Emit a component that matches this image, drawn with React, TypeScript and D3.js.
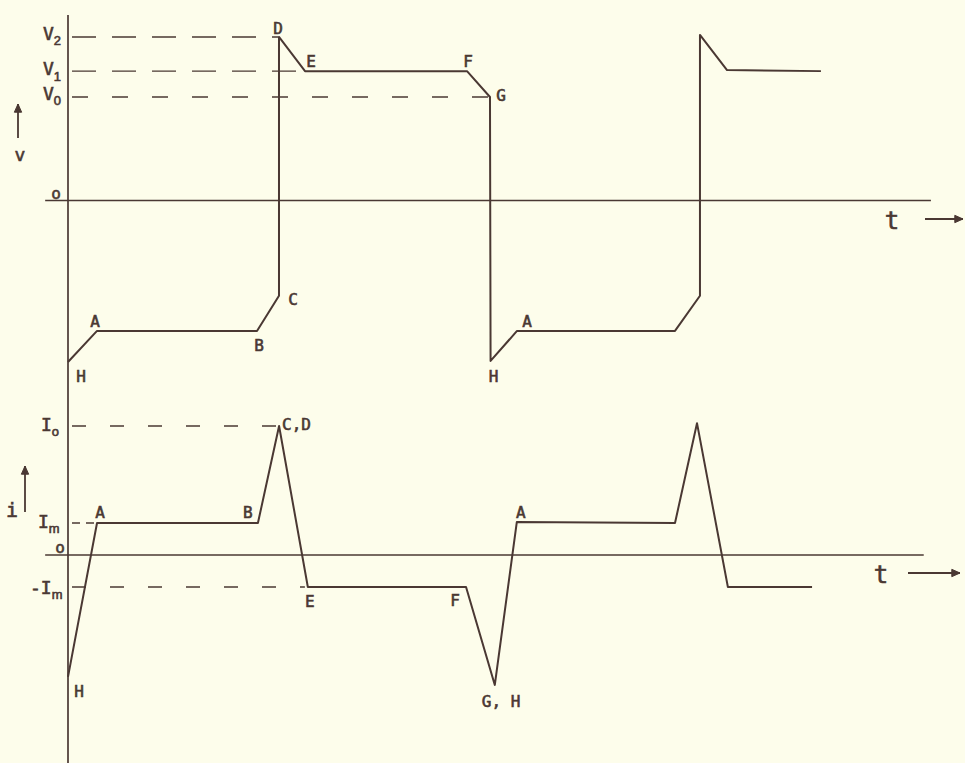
import React from "react";
import * as d3 from "d3";

// Time instants (ms) of the voltage waveform corners
const vTimes = [0, 0.686, 4.468, 4.988, 4.988, 5.603, 9.433, 9.976, 9.99, 10.615, 14.35, 14.94, 14.94, 15.58, 17.8];
// Voltage at each instant, in units of V0
const vValues = [-1.56, -1.26, -1.26, -0.92, 1.58, 1.25, 1.25, 1.0, -1.55, -1.26, -1.26, -0.92, 1.6, 1.26, 1.25];

// Time instants (ms) of the current waveform corners
const iTimes = [0, 0.686, 4.49, 4.99, 5.67, 9.41, 10.09, 10.61, 14.35, 14.87, 15.6, 17.59];
// Current at each instant, in units of Im
const iValues = [-3.81, 1.0, 1.0, 4.03, -1.0, -1.0, -4.06, 1.03, 1.0, 4.12, -1.0, -1.0];

// Reference levels and the instant where each dashed guide stops
const vLevelNames = ["V2", "V1", "V0"];
const vLevelValues = [1.58, 1.25, 1.0];
const vLevelEnds = [4.97, 5.5, 9.95];

const iLevelNames = ["I0", "Im", "-Im"];
const iLevelValues = [4.03, 1.0, -1.0];
const iLevelEnds = [4.95, 0.62, 5.6];

// Time axis extent (ms)
const tAxisStart = -0.54;
const tAxisEndV = 20.4;
const tAxisEndI = 20.23;

const INK = "#4a3833";
const PAPER = "#fdfdeb";
const FONT = "'DejaVu Sans Mono', monospace";
const SUB_FONT = "'Liberation Sans', Arial, sans-serif";

const x = d3.scaleLinear().domain([0, 10]).range([68, 491]);
const yV = d3.scaleLinear().domain([0, 1]).range([200.5, 97]);
const yI = d3.scaleLinear().domain([0, 1]).range([555, 523]);

type Pt = [number, number];

function Label({ x: lx, y: ly, text, sub, size = 16, anchor = "middle" }: { x: number; y: number; text: string; sub?: string; size?: number; anchor?: string }) {
  return (
    <text
      x={lx}
      y={ly}
      fontFamily={FONT}
      fontSize={size}
      fill={INK}
      stroke={INK}
      strokeWidth={0.6}
      textAnchor={anchor as any}
    >
      {text}
      {sub ? (
        <tspan fontFamily={SUB_FONT} fontSize={size * 0.72} dy={size * 0.3}>
          {sub}
        </tspan>
      ) : null}
    </text>
  );
}

function Arrow({ x1, y1, x2, y2 }: { x1: number; y1: number; x2: number; y2: number }) {
  const ang = Math.atan2(y2 - y1, x2 - x1);
  const L = 9;
  const w = 0.42;
  const p1: Pt = [x2 - L * Math.cos(ang - w), y2 - L * Math.sin(ang - w)];
  const p2: Pt = [x2 - L * Math.cos(ang + w), y2 - L * Math.sin(ang + w)];
  return (
    <g stroke={INK} strokeWidth={1.8} fill={INK}>
      <line x1={x1} y1={y1} x2={x2} y2={y2} />
      <path d={`M${p1[0]},${p1[1]} L${x2},${y2} L${p2[0]},${p2[1]} Z`} strokeWidth={1} strokeLinejoin="miter" />
    </g>
  );
}

export default function App() {
  const line = d3.line<Pt>().x((d) => d[0]).y((d) => d[1]);
  const vPath = line(vTimes.map((t, k) => [x(t), yV(vValues[k])] as Pt)) || "";
  const iPath = line(iTimes.map((t, k) => [x(t), yI(iValues[k])] as Pt)) || "";

  const vp = (k: number): Pt => [x(vTimes[k]), yV(vValues[k])];
  const ip = (k: number): Pt => [x(iTimes[k]), yI(iValues[k])];

  const axisX = x(0);

  // point labels: [index, text, dx, dy]
  const vPointLabels: [number, string, number, number][] = [
    [0, "H", 13, 20],
    [1, "A", -2, -4],
    [2, "B", 2, 20],
    [3, "C", 14, 9],
    [4, "D", -1, -3],
    [5, "E", 6, -4],
    [6, "F", 1, -4],
    [7, "G", 11, 4],
    [8, "H", 3, 21],
    [9, "A", 10, -4],
  ];
  const iPointLabels: [number, string, number, number][] = [
    [0, "H", 11, 20],
    [1, "A", 3, -5],
    [2, "B", -10, -5],
    [5, "F", -11, 19],
    [4, "E", 2, 20],
    [7, "A", 4, -4],
  ];

  const [cdx, cdy] = ip(3);
  const [ghx, ghy] = ip(6);

  return (
    <svg
      width={965}
      height={763}
      style={{ position: "absolute", left: 0, top: 0, background: PAPER }}
    >
      <rect x={0} y={0} width={965} height={763} fill={PAPER} />

      {/* vertical axis shared by both traces */}
      <line x1={axisX} y1={15} x2={axisX} y2={763} stroke={INK} strokeWidth={1.7} />

      {/* voltage time axis */}
      <line x1={x(tAxisStart)} y1={yV(0)} x2={x(tAxisEndV)} y2={yV(0)} stroke={INK} strokeWidth={1.7} />
      {/* current time axis */}
      <line x1={x(tAxisStart)} y1={yI(0)} x2={x(tAxisEndI)} y2={yI(0)} stroke={INK} strokeWidth={1.5} />

      {/* dashed voltage levels */}
      {vLevelNames.map((n, k) => (
        <line
          key={n}
          x1={axisX + 4}
          x2={x(vLevelEnds[k])}
          y1={yV(vLevelValues[k])}
          y2={yV(vLevelValues[k])}
          stroke={INK}
          strokeWidth={1.4}
          strokeDasharray={k === 2 ? "16 24" : "24 16"}
        />
      ))}
      {/* dashed current levels */}
      {iLevelNames.map((n, k) => (
        <line
          key={n}
          x1={axisX + 4}
          x2={x(iLevelEnds[k])}
          y1={yI(iLevelValues[k])}
          y2={yI(iLevelValues[k])}
          stroke={INK}
          strokeWidth={1.4}
          strokeDasharray={k === 1 ? "8 6" : "14 24"}
        />
      ))}

      {/* waveforms */}
      <path d={vPath} fill="none" stroke={INK} strokeWidth={2} strokeLinejoin="round" />
      <path d={iPath} fill="none" stroke={INK} strokeWidth={2} strokeLinejoin="round" />

      {/* level labels */}
      <Label x={43} y={yV(vLevelValues[0]) + 3} text="V" sub="2" size={18} anchor="start" />
      <Label x={43} y={yV(vLevelValues[1]) + 4} text="V" sub="1" size={18} anchor="start" />
      <Label x={43} y={yV(vLevelValues[2]) + 3} text="V" sub="0" size={18} anchor="start" />
      <Label x={56} y={yV(0) - 2} text="o" size={16} />

      <Label x={41} y={yI(iLevelValues[0]) + 5} text="I" sub="o" size={18} anchor="start" />
      <Label x={38} y={yI(iLevelValues[1]) + 5} text="I" sub="m" size={18} anchor="start" />
      <Label x={30} y={yI(iLevelValues[2]) + 7} text="-I" sub="m" size={18} anchor="start" />
      <Label x={60} y={yI(0) - 2} text="o" size={16} />

      {/* quantity symbols with arrows */}
      <Arrow x1={18} y1={138} x2={18} y2={104} />
      <Label x={20} y={161} text="v" size={18} />
      <Arrow x1={25} y1={512} x2={25} y2={466} />
      <Label x={12} y={517} text="i" size={20} />

      <Label x={892} y={229} text="t" size={24} />
      <Arrow x1={925} y1={219} x2={963} y2={219} />
      <Label x={881} y={583} text="t" size={24} />
      <Arrow x1={908} y1={573} x2={960} y2={573} />

      {/* corner labels */}
      {vPointLabels.map(([k, t, dx, dy], n) => {
        const [px, py] = vp(k);
        return <Label key={"v" + n} x={px + dx} y={py + dy} text={t} size={16} />;
      })}
      {iPointLabels.map(([k, t, dx, dy], n) => {
        const [px, py] = ip(k);
        return <Label key={"i" + n} x={px + dx} y={py + dy} text={t} size={16} />;
      })}
      <Label x={cdx + 3} y={cdy + 4} text="C,D" size={16} anchor="start" />
      <Label x={ghx - 13} y={ghy + 22} text="G, H" size={16} anchor="start" />
    </svg>
  );
}
